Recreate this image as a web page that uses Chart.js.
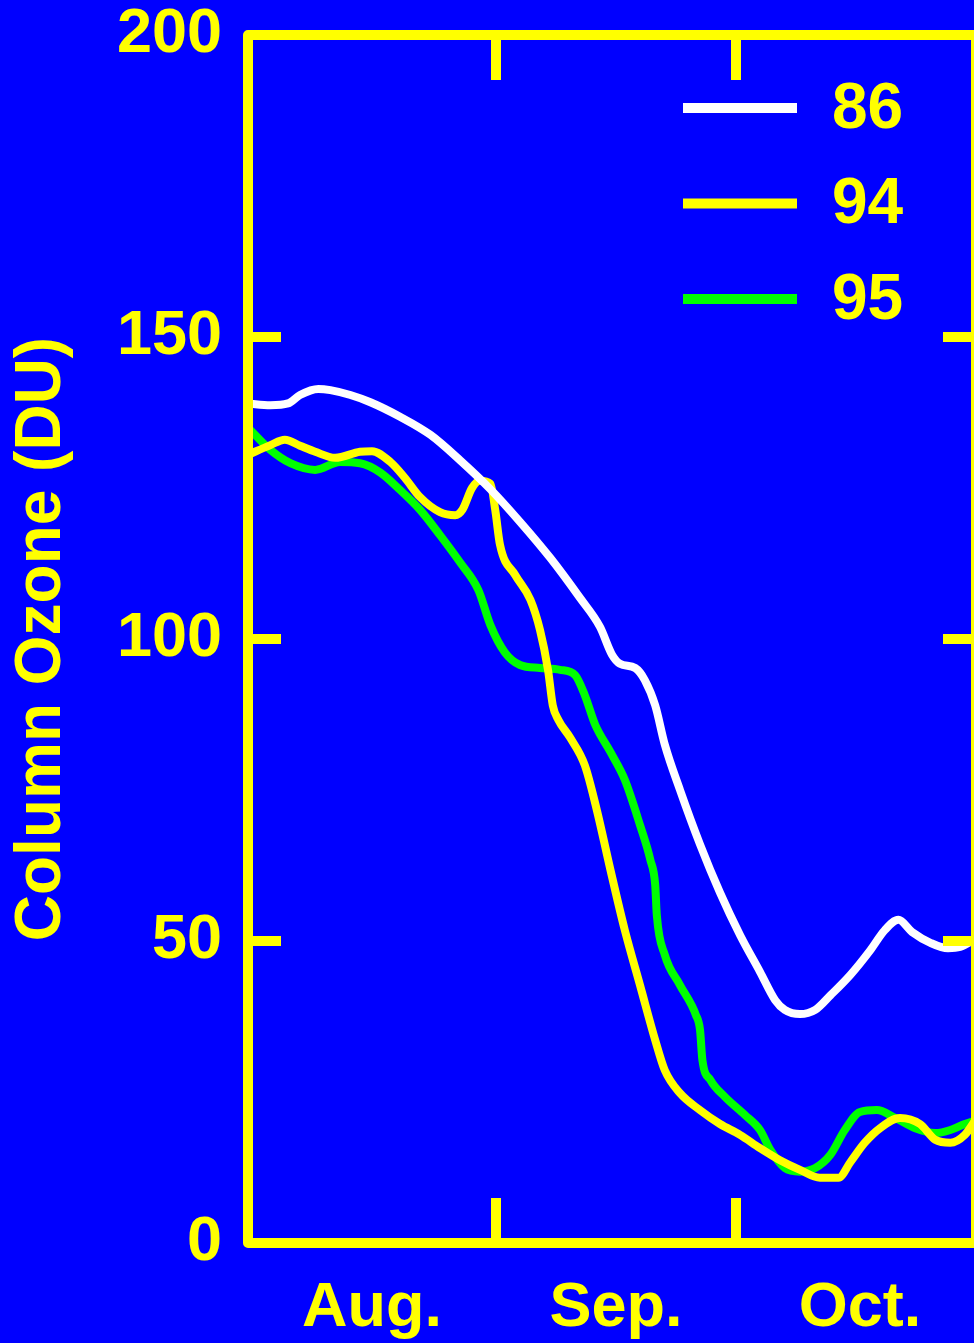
<!DOCTYPE html>
<html>
<head>
<meta charset="utf-8">
<script src="https://cdn.jsdelivr.net/npm/chart.js@4"></script>
<style>
  html, body { margin: 0; padding: 0; background: #0000ff; overflow: hidden; }
  #wrap { width: 1000px; height: 1343px; }
</style>
</head>
<body>
<div id="wrap"><canvas id="ozone-chart" width="1000" height="1343"></canvas></div>
<script>
// days since Aug. 1, column ozone in DU
const days86 = [0, 2.8, 5, 6.5, 8.8, 10.3, 12.8, 15.3, 19, 22.8, 26.5, 30.3, 34, 37.8, 41.5, 44, 45.5, 46.5, 48.4, 49.6, 50.9, 52.1, 54, 56.5, 59, 61.5, 64, 65.9, 67.1, 69, 70.9, 72.8, 75.3, 77.8, 79.6, 81.3, 83, 85.3, 87.5, 89, 91];
const ozone86 = [139, 138.7, 139, 140.4, 141.4, 141.2, 140.4, 139.2, 136.8, 133.8, 129.6, 124.8, 119.4, 113.4, 106.8, 102, 97.4, 95.9, 95.2, 93.2, 89, 82.5, 75, 66, 58, 51, 44.9, 40.2, 38.6, 37.9, 38.6, 41, 44.4, 48.5, 51.8, 53.5, 51.5, 49.7, 48.8, 49, 50.4];

const days94 = [0, 2.8, 4.6, 6.5, 8.4, 10.9, 14, 15.5, 17.8, 19.6, 21.5, 24, 25.9, 26.8, 28, 29, 30.3, 30.9, 31.5, 33.4, 35.3, 36.5, 37.5, 38.1, 38.8, 40.3, 42.1, 43.6, 45.3, 47.1, 49, 50.9, 52.1, 54, 56.5, 59, 61.5, 64, 66.5, 69, 71.5, 73.8, 75.3, 77.1, 79, 81.5, 84, 85.9, 87.8, 89.6, 91];
const ozone94 = [130.5, 132.1, 133, 132, 131, 130, 131, 131.1, 129.3, 126.7, 123.5, 121, 120.5, 121.4, 125, 126.2, 125.7, 121.4, 115.6, 110.6, 106.5, 101.5, 94.9, 89, 86.6, 83.6, 79.1, 71.7, 61.8, 51.8, 42.7, 33.6, 28.6, 24.8, 22, 19.7, 17.9, 15.7, 13.7, 12.1, 10.8, 10.8, 13.4, 16.6, 19, 20.7, 19.7, 17.1, 16.6, 17.9, 20.5];

const days95 = [0, 2.8, 5.3, 8.4, 11.5, 14, 16.5, 19, 21.5, 24, 26.5, 28.8, 30.3, 32.1, 34, 36.5, 39, 40.9, 42.1, 43.4, 45.3, 47.1, 49, 50.3, 50.9, 51.1, 52.1, 54, 56, 56.5, 56.8, 57.8, 59.6, 62.1, 64, 65.3, 67.1, 69, 70.9, 72.8, 74.6, 76.5, 78.6, 80.9, 83.4, 85.9, 87.8, 89.6, 91];
const ozone95 = [135, 131.3, 129.1, 128, 129.3, 129.1, 127.6, 124.7, 121.4, 117.2, 112.7, 108.1, 102.3, 97.8, 95.7, 95.2, 94.9, 94, 90.7, 85.8, 81.3, 76.7, 69.2, 63.4, 59.3, 54.3, 47.7, 42.7, 37.7, 35.3, 30.3, 27, 24.2, 21.2, 18.7, 15.4, 12.4, 11.8, 12.4, 14.6, 18.7, 21.7, 22, 20.7, 19, 18.2, 18.7, 19.7, 20.3];

const seriesLabels = ["86", "94", "95"];
const seriesColors = ["#ffffff", "#ffff00", "#00ff00"];

const monthLabels = ["Aug.", "Sep.", "Oct."];
const monthMids = [15.5, 46, 76.5];
const monthStarts = [31, 61];
const yTickValues = [50, 100, 150];

const yellow = "#ffff00";
const fontFamily = "'Liberation Sans', Arial, Helvetica, sans-serif";

function toPoints(xs, ys) {
  return xs.map((x, i) => ({ x: x, y: ys[i] }));
}

// frame with inward ticks, drawn on top of the curves
const framePlugin = {
  id: "frame",
  afterDatasetsDraw(chart) {
    const { ctx, chartArea: a, scales } = chart;
    ctx.save();
    ctx.strokeStyle = yellow;
    ctx.lineWidth = 10;
    ctx.lineJoin = "round";
    ctx.strokeRect(a.left, a.top, a.right - a.left, a.bottom - a.top);
    ctx.lineCap = "butt";
    monthStarts.forEach((d) => {
      const px = scales.x.getPixelForValue(d);
      ctx.beginPath();
      ctx.moveTo(px, a.top);
      ctx.lineTo(px, a.top + 45);
      ctx.moveTo(px, a.bottom);
      ctx.lineTo(px, a.bottom - 45);
      ctx.stroke();
    });
    yTickValues.forEach((v) => {
      const py = scales.y.getPixelForValue(v);
      ctx.beginPath();
      ctx.moveTo(a.left, py);
      ctx.lineTo(a.left + 33, py);
      ctx.moveTo(a.right, py);
      ctx.lineTo(a.right - 33, py);
      ctx.stroke();
    });
    ctx.restore();
  },
};

// legend in the upper right of the plot
const legendPlugin = {
  id: "insideLegend",
  afterDraw(chart) {
    const ctx = chart.ctx;
    ctx.save();
    ctx.font = "bold 64px " + fontFamily;
    ctx.textBaseline = "middle";
    ctx.textAlign = "left";
    chart.data.datasets.forEach((ds, i) => {
      const y = 108 + i * 95.5;
      ctx.strokeStyle = ds.borderColor;
      ctx.lineWidth = 10;
      ctx.beginPath();
      ctx.moveTo(683, y);
      ctx.lineTo(797, y);
      ctx.stroke();
      ctx.fillStyle = yellow;
      ctx.fillText(ds.label, 832, y + 2);
    });
    ctx.restore();
  },
};

const ctx = document.getElementById("ozone-chart").getContext("2d");
const ozoneChart = new Chart(ctx, {
  type: "line",
  data: {
    datasets: [
      { label: seriesLabels[0], data: toPoints(days86, ozone86), borderColor: seriesColors[0] },
      { label: seriesLabels[1], data: toPoints(days94, ozone94), borderColor: seriesColors[1] },
      { label: seriesLabels[2], data: toPoints(days95, ozone95), borderColor: seriesColors[2] },
    ],
  },
  options: {
    responsive: false,
    animation: false,
    layout: { padding: { top: 35, right: 24, left: 0, bottom: 0 } },
    elements: {
      point: { radius: 0 },
      line: { borderWidth: 8, cubicInterpolationMode: "monotone", capBezierPoints: true },
    },
    plugins: {
      legend: { display: false },
      tooltip: { enabled: false },
    },
    scales: {
      x: {
        type: "linear",
        min: 0,
        max: 91,
        grid: { display: false },
        border: { display: false },
        afterBuildTicks: (scale) => {
          scale.ticks = monthMids.map((v) => ({ value: v }));
        },
        afterFit: (scale) => {
          scale.height = 100;
          scale.paddingLeft = 0;
          scale.paddingRight = 0;
        },
        ticks: {
          autoSkip: false,
          maxRotation: 0,
          padding: 20,
          color: yellow,
          font: { family: fontFamily, size: 63, weight: "bold" },
          callback: (value, index) => monthLabels[index],
        },
      },
      y: {
        min: 0,
        max: 200,
        grid: { display: false },
        border: { display: false },
        afterFit: (scale) => {
          scale.width = 248;
          scale.paddingTop = 0;
          scale.paddingBottom = 0;
        },
        ticks: {
          stepSize: 50,
          padding: 18,
          color: yellow,
          font: { family: fontFamily, size: 63, weight: "bold" },
        },
        title: {
          display: true,
          text: "Column Ozone (DU)",
          color: yellow,
          padding: { top: 4, bottom: 4 },
          font: { family: fontFamily, size: 64, weight: "bold" },
        },
      },
    },
  },
  plugins: [framePlugin, legendPlugin],
});
</script>
</body>
</html>
